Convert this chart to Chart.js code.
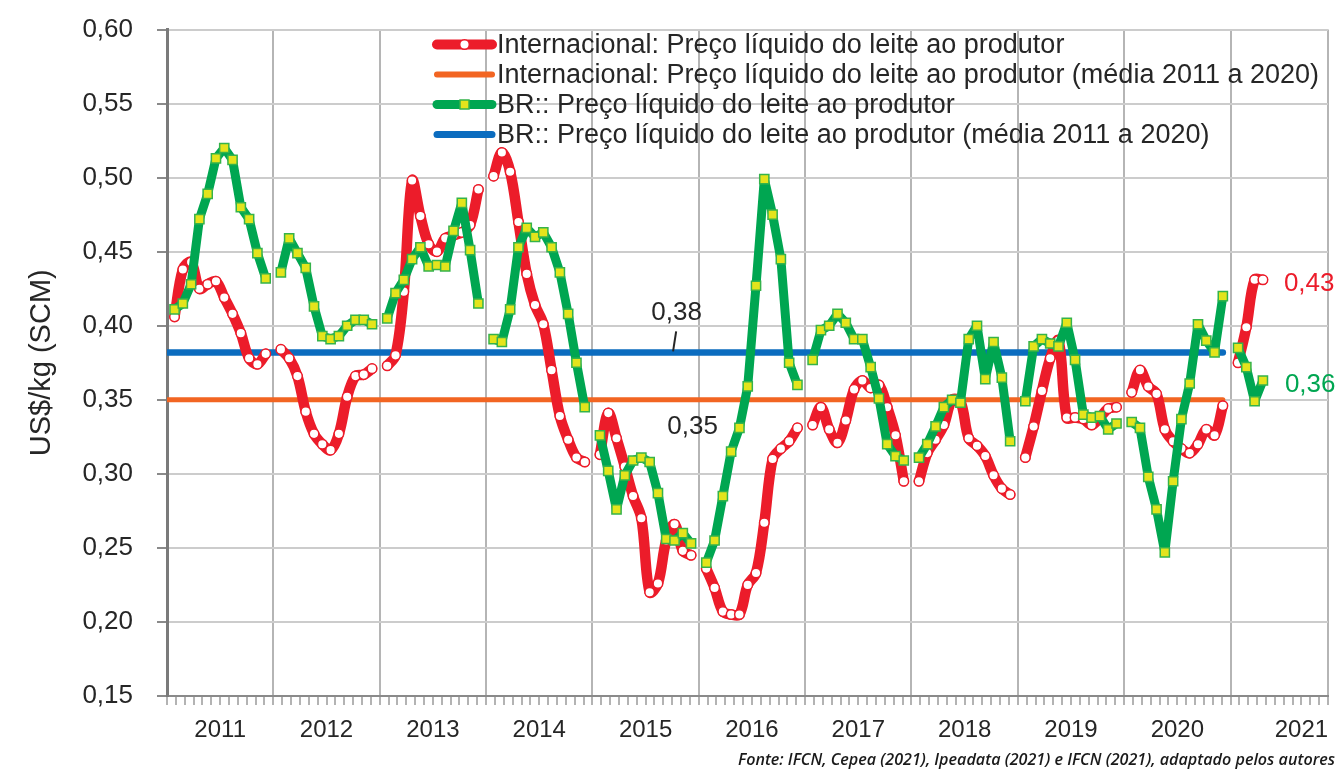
<!DOCTYPE html>
<html><head><meta charset="utf-8">
<script src="https://cdn.jsdelivr.net/npm/chart.js@4.4.1/dist/chart.umd.min.js"></script>
<style>html,body{margin:0;padding:0;background:#fff;}canvas{display:block;}</style>
</head><body>
<canvas id="c" width="1339" height="772"></canvas>
<script>
// ---- data ----
const yearLabels = ['2011','2012','2013','2014','2015','2016','2017','2018','2019','2020','2021'];
const yTickValues = [0.15,0.20,0.25,0.30,0.35,0.40,0.45,0.50,0.55,0.60];
// Internacional: Preço líquido do leite ao produtor (monthly, Jan 2011 - Apr 2021)
const intlPrice = [
  0.406,0.438,0.443,0.425,0.428,0.430,0.419,0.408,0.395,0.378,0.374,0.381,
  0.384,0.378,0.366,0.342,0.327,0.320,0.316,0.327,0.352,0.366,0.367,0.371,
  0.373,0.380,0.423,0.498,0.474,0.455,0.450,0.459,0.461,0.463,0.468,0.492,
  0.501,0.517,0.504,0.470,0.435,0.414,0.401,0.370,0.339,0.323,0.311,0.308,
  0.313,0.341,0.324,0.305,0.285,0.270,0.220,0.226,0.255,0.266,0.248,0.245,
  0.236,0.223,0.207,0.205,0.205,0.225,0.233,0.267,0.310,0.317,0.322,0.331,
  0.333,0.345,0.330,0.321,0.336,0.357,0.363,0.358,0.360,0.345,0.326,0.295,
  0.295,0.314,0.323,0.333,0.350,0.349,0.324,0.319,0.312,0.299,0.290,0.286,
  0.311,0.332,0.356,0.378,0.390,0.338,0.338,0.337,0.333,0.338,0.344,0.345,
  0.355,0.370,0.359,0.354,0.330,0.322,0.317,0.314,0.320,0.330,0.326,0.346,
  0.375,0.399,0.431,0.431
];
// BR:: Preço líquido do leite ao produtor
const brPrice = [
  0.411,0.415,0.428,0.472,0.489,0.513,0.520,0.512,0.480,0.472,0.449,0.432,
  0.436,0.459,0.449,0.439,0.413,0.393,0.391,0.393,0.400,0.404,0.404,0.401,
  0.405,0.422,0.431,0.445,0.453,0.440,0.441,0.440,0.464,0.483,0.451,0.415,
  0.391,0.389,0.411,0.453,0.466,0.460,0.463,0.453,0.436,0.408,0.375,0.345,
  0.326,0.302,0.276,0.299,0.309,0.311,0.308,0.287,0.256,0.255,0.260,0.253,
  0.240,0.255,0.285,0.315,0.331,0.359,0.427,0.499,0.475,0.445,0.375,0.360,
  0.377,0.397,0.400,0.408,0.402,0.391,0.391,0.372,0.351,0.320,0.312,0.309,
  0.311,0.320,0.332,0.345,0.350,0.348,0.391,0.400,0.364,0.389,0.365,0.322,
  0.349,0.386,0.391,0.388,0.386,0.402,0.377,0.340,0.338,0.339,0.330,0.334,
  0.335,0.331,0.298,0.276,0.247,0.295,0.337,0.361,0.401,0.390,0.382,0.420,
  0.385,0.372,0.349,0.363
];
const intlAverage = 0.350;
const brAverage = 0.382;
const seriesNames = [
  'Internacional: Preço líquido do leite ao produtor',
  'Internacional: Preço líquido do leite ao produtor (média 2011 a 2020)',
  'BR:: Preço líquido do leite ao produtor',
  'BR:: Preço líquido do leite ao produtor (média 2011 a 2020)'
];
const avgTexts = ['0,38', '0,35'];
const endTexts = ['0,43', '0,36'];
const sourceText = 'Fonte: IFCN, Cepea (2021), Ipeadata (2021) e IFCN (2021), adaptado pelos autores';

// ---- styling ----
const RED = '#ec1c2a', ORANGE = '#f26522', GREEN = '#00a651', BLUE = '#0b6cbf';
const SQ_FILL = '#e4e41c', SQ_EDGE = '#35b34a';
const FONT = '"Liberation Sans", Arial, sans-serif';
const TXT = '#262626';

// month index -> x position (months since Jan 2011; each year drawn as its own segment)
function monthX(i) { const yi = Math.floor(i / 12), m = i % 12; return yi * 12 + 0.85 + m * 0.935; }
function buildPoints(vals) {
  const pts = [];
  vals.forEach((v, i) => {
    if (i > 0 && i % 12 === 0) pts.push({ x: i, y: null });
    pts.push({ x: monthX(i), y: v });
  });
  return pts;
}
const lastAvgX = monthX(119);

const overlay = {
  id: 'overlay',
  afterDraw(chart) {
    const { ctx } = chart;
    const xs = chart.scales.x, ys = chart.scales.y;
    ctx.save();
    // legend
    const lx0 = 437, lx1 = 492, ly0 = 44.5, lstep = 30;
    const lw = [10, 6, 9, 7], lc = [RED, ORANGE, GREEN, BLUE];
    seriesNames.forEach((name, i) => {
      const y = ly0 + i * lstep;
      ctx.beginPath(); ctx.lineCap = 'round';
      ctx.strokeStyle = lc[i]; ctx.lineWidth = lw[i];
      ctx.moveTo(lx0, y); ctx.lineTo(lx1, y); ctx.stroke();
      const mx = (lx0 + lx1) / 2;
      if (i === 0) {
        ctx.beginPath(); ctx.arc(mx, y, 4.8, 0, Math.PI * 2);
        ctx.fillStyle = '#fff'; ctx.fill(); ctx.lineWidth = 1.5; ctx.strokeStyle = RED; ctx.stroke();
      } else if (i === 2) {
        ctx.fillStyle = SQ_FILL; ctx.fillRect(mx - 4.5, y - 4.5, 9, 9);
        ctx.lineWidth = 1.5; ctx.strokeStyle = SQ_EDGE; ctx.strokeRect(mx - 4.5, y - 4.5, 9, 9);
      }
      ctx.fillStyle = TXT; ctx.font = '27px ' + FONT;
      ctx.textAlign = 'left'; ctx.textBaseline = 'middle';
      ctx.fillText(name, 497, y + 1);
    });
    // average labels
    ctx.font = '26px ' + FONT; ctx.fillStyle = TXT; ctx.textAlign = 'center'; ctx.textBaseline = 'middle';
    const yBlue = ys.getPixelForValue(brAverage), yOr = ys.getPixelForValue(intlAverage);
    ctx.fillText(avgTexts[0], xs.getPixelForValue(57.5), yBlue - 40);
    ctx.fillText(avgTexts[1], xs.getPixelForValue(59.3), yOr + 27);
    ctx.beginPath(); ctx.lineWidth = 2; ctx.strokeStyle = TXT; ctx.lineCap = 'butt';
    ctx.moveTo(xs.getPixelForValue(57.45), yBlue - 21); ctx.lineTo(xs.getPixelForValue(57.1), yBlue - 1); ctx.stroke();
    // end labels
    ctx.textAlign = 'left';
    const lastI = intlPrice.length - 1, lastB = brPrice.length - 1;
    ctx.fillStyle = RED;
    ctx.fillText(endTexts[0], xs.getPixelForValue(monthX(lastI)) + 21, ys.getPixelForValue(intlPrice[lastI]) + 4);
    ctx.fillStyle = GREEN;
    ctx.fillText(endTexts[1], xs.getPixelForValue(monthX(lastB)) + 22, ys.getPixelForValue(brPrice[lastB]) + 4);
    // source
    ctx.font = 'italic 600 16px "Open Sans", sans-serif';
    const w = ctx.measureText(sourceText).width, target = 597;
    ctx.fillStyle = '#1a1a1a'; ctx.textBaseline = 'middle'; ctx.textAlign = 'left';
    ctx.translate(1335 - target, 760); ctx.scale(target / w, 1);
    ctx.fillText(sourceText, 0, 0);
    ctx.restore();
  }
};

new Chart(document.getElementById('c'), {
  type: 'line',
  data: {
    datasets: [
      { label: seriesNames[0], data: buildPoints(intlPrice), borderColor: RED, borderWidth: 10.5,
        tension: 0.35, spanGaps: false, pointRadius: 4.8, pointBorderWidth: 1.5,
        pointBackgroundColor: '#fff', pointBorderColor: RED, borderCapStyle: 'round', borderJoinStyle: 'round', order: 1 },
      { label: seriesNames[1], data: [{ x: 0, y: intlAverage }, { x: lastAvgX, y: intlAverage }],
        borderColor: ORANGE, borderWidth: 5, pointRadius: 0, borderCapStyle: 'round', order: 3 },
      { label: seriesNames[2], data: buildPoints(brPrice), borderColor: GREEN, borderWidth: 9,
        tension: 0, spanGaps: false, pointStyle: 'rect', pointRadius: 6.5, pointBorderWidth: 1.5,
        pointBackgroundColor: SQ_FILL, pointBorderColor: SQ_EDGE, borderCapStyle: 'round', borderJoinStyle: 'round', order: 0 },
      { label: seriesNames[3], data: [{ x: 0, y: brAverage }, { x: lastAvgX, y: brAverage }],
        borderColor: BLUE, borderWidth: 6.5, pointRadius: 0, borderCapStyle: 'round', order: 2 }
    ]
  },
  options: {
    responsive: false, animation: false, events: [],
    layout: { padding: { left: 0, right: 11, top: 29.5, bottom: 0 } },
    scales: {
      x: {
        type: 'linear', min: 0, max: 131,
        afterBuildTicks: s => { const t = []; for (let v = 0; v <= 131; v++) t.push({ value: v }); s.ticks = t; },
        afterFit: s => { s.height = 76; s.paddingLeft = 0; s.paddingRight = 0; },
        grid: {
          color: c => (c.tick && (c.tick.value % 12 === 0 || c.tick.value === 131)) ? '#b5b5b5' : 'rgba(0,0,0,0)',
          lineWidth: 2, tickColor: '#9a9a9a', tickLength: 9, tickWidth: 1.5
        },
        border: { color: '#8a8a8a', width: 2 },
        ticks: {
          autoSkip: false, maxRotation: 0, minRotation: 0, padding: 11,
          color: TXT, font: { family: FONT, size: 24 },
          callback: v => {
            if (v % 12 === 6 && v < 120) return yearLabels[(v - 6) / 12];
            if (v === 128) return yearLabels[10];
            return '';
          }
        }
      },
      y: {
        min: 0.15, max: 0.60,
        afterBuildTicks: s => { s.ticks = yTickValues.map(v => ({ value: v })); },
        afterFit: s => { s.width = 167; s.paddingTop = 0; s.paddingBottom = 0; },
        grid: { color: '#cccccc', lineWidth: 2, tickColor: '#8a8a8a', tickLength: 10, tickWidth: 2 },
        border: { color: '#7a7a7a', width: 3 },
        ticks: { padding: 24, color: TXT, font: { family: FONT, size: 26 },
          callback: v => v.toFixed(2).replace('.', ',') },
        title: { display: true, text: 'US$/kg (SCM)', color: TXT, font: { family: FONT, size: 29 },
          padding: { top: 24.6, bottom: 0 } }
      }
    },
    plugins: { legend: { display: false }, tooltip: { enabled: false } }
  },
  plugins: [overlay]
});
</script>
</body></html>
